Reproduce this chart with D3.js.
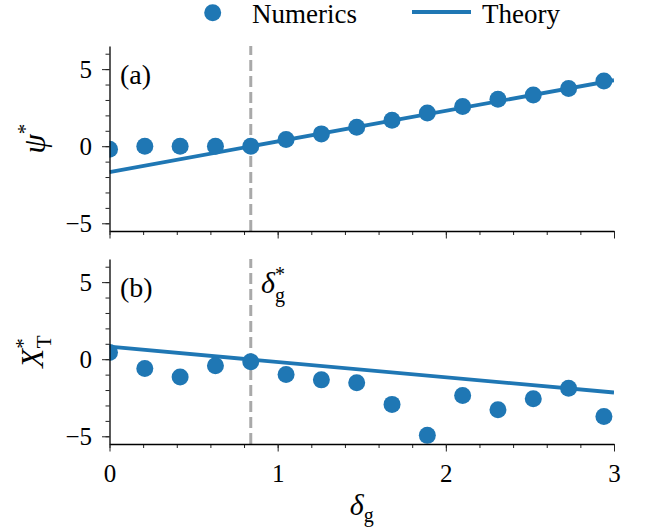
<!DOCTYPE html>
<html>
<head>
<meta charset="utf-8">
<script src="https://cdn.jsdelivr.net/npm/d3@7"></script>
<style>
  html, body { margin: 0; padding: 0; background: #fff; }
  svg { display: block; }
  svg text { font-family: "Liberation Serif", "Times New Roman", Times, "DejaVu Serif", "Noto Serif", Georgia, serif; fill: #000; }
</style>
</head>
<body>
<svg id="chart" width="651" height="529"></svg>
<script>
// Gravity-offset sweep: numerical fixed points vs. linear theory
const deltaG = [0, 0.21, 0.42, 0.63, 0.84, 1.05, 1.26, 1.47, 1.68, 1.89, 2.10, 2.31, 2.52, 2.73, 2.94];
const psiNumerics = [-0.2, 0.0, 0.0, 0.0, 0.0, 0.43, 0.8, 1.23, 1.68, 2.16, 2.57, 3.04, 3.32, 3.75, 4.23];
const xtNumerics = [0.43, -0.61, -1.16, -0.43, -0.17, -0.99, -1.34, -1.53, -2.93, -4.94, -2.35, -3.28, -2.57, -1.88, -3.71];
const theoryDelta = [0, 3];
const psiTheory = [-1.68, 4.28];
const xtTheory = [0.81, -2.16];
const deltaStar = 0.84;
const xMajorTicks = [0, 1, 2, 3];
const yMajorTicks = [-5, 0, 5];
const panelTags = ["(a)", "(b)"];

const serif = '"Liberation Serif", "Times New Roman", Times, "DejaVu Serif", "Noto Serif", Georgia, serif';
const blue = "#1f77b4";
const svg = d3.select("#chart").attr("font-family", serif);
const fs = 25;

const x = d3.scaleLinear().domain([0, 3]).range([109.5, 614]);
const panels = [
  { tag: panelTags[0], y: d3.scaleLinear().domain([-5.5, 6.5]).range([231, 46]), num: psiNumerics, th: psiTheory, showX: false },
  { tag: panelTags[1], y: d3.scaleLinear().domain([-5.5, 6.5]).range([444, 259]), num: xtNumerics, th: xtTheory, showX: true }
];

panels.forEach((p, i) => {
  const [yb, yt] = p.y.range();
  const clipId = "clip" + i;
  svg.append("clipPath").attr("id", clipId)
    .append("rect").attr("x", x(0)).attr("y", yt).attr("width", x(3) - x(0)).attr("height", yb - yt);

  const g = svg.append("g");
  const plot = g.append("g").attr("clip-path", `url(#${clipId})`);

  // critical offset marker
  plot.append("line")
    .attr("x1", x(deltaStar)).attr("x2", x(deltaStar))
    .attr("y1", p.y(-5.5)).attr("y2", p.y(6.5))
    .attr("stroke", "#a9a9a9").attr("stroke-width", 3)
    .attr("stroke-dasharray", "11,5");

  // theory line
  const line = d3.line().x((d, k) => x(theoryDelta[k])).y(d => p.y(d));
  plot.append("path").datum(p.th)
    .attr("d", line).attr("fill", "none")
    .attr("stroke", blue).attr("stroke-width", 3.8);

  // numerical points
  plot.selectAll("circle").data(p.num).join("circle")
    .attr("cx", (d, k) => x(deltaG[k])).attr("cy", d => p.y(d))
    .attr("r", 8.5).attr("fill", blue);

  // y axis: minor then major
  const yMinor = d3.axisLeft(p.y).tickValues(d3.range(-5, 7, 1)).tickSize(4).tickFormat("").tickSizeOuter(0);
  const gyMinor = g.append("g").attr("transform", `translate(${x(0)},0)`).call(yMinor);
  gyMinor.select(".domain").remove();
  const yMajor = d3.axisLeft(p.y).tickValues(yMajorTicks).tickSize(7.5).tickPadding(10).tickSizeOuter(0)
    .tickFormat(d => d < 0 ? "\u2212" + Math.abs(d) : d);
  const gy = g.append("g").attr("transform", `translate(${x(0)},0)`).call(yMajor);

  // x axis: minor then major
  const xMinor = d3.axisBottom(x).tickValues(d3.range(0, 3.01, 0.2)).tickSize(4).tickFormat("").tickSizeOuter(0);
  const gxMinor = g.append("g").attr("transform", `translate(0,${yb})`).call(xMinor);
  gxMinor.select(".domain").remove();
  const xMajor = d3.axisBottom(x).tickValues(xMajorTicks).tickSize(7.5).tickPadding(12).tickSizeOuter(0)
    .tickFormat(p.showX ? d3.format("d") : "");
  const gx = g.append("g").attr("transform", `translate(0,${yb})`).call(xMajor);

  [gy, gx, gyMinor, gxMinor].forEach(a => {
    a.attr("font-family", serif);
    a.selectAll(".tick line").attr("stroke", "#222").attr("stroke-width", 1);
    a.selectAll(".domain").attr("stroke", "#000").attr("stroke-width", 1.3);
    a.selectAll("text").attr("font-size", fs).attr("font-family", serif).attr("fill", "#000");
  });
  gy.selectAll(".tick text").attr("dy", "0.34em");
  gx.selectAll(".tick text").attr("dy", "0.75em");

  // panel tag
  g.append("text").attr("x", 120).attr("y", p.y(6.5) + 38)
    .attr("font-size", 28).text(p.tag);
});

// y-axis labels
const la = svg.append("text").attr("text-anchor", "middle").attr("font-size", 31)
  .attr("transform", `translate(45,${(panels[0].y(-5.5) + panels[0].y(6.5)) / 2}) rotate(-90)`);
la.append("tspan").attr("font-style", "italic").text("\u03c8");
la.append("tspan").attr("font-size", 21).attr("dy", -13).text("*");

const lb = svg.append("text").attr("text-anchor", "middle").attr("font-size", 31)
  .attr("transform", `translate(43,${(panels[1].y(-5.5) + panels[1].y(6.5)) / 2}) rotate(-90)`);
lb.append("tspan").attr("font-style", "italic").text("X");
lb.append("tspan").attr("font-size", 21).attr("dy", -13).text("*");
lb.append("tspan").attr("font-size", 21).attr("dx", -10).attr("dy", 21).text("T");

// critical offset annotation
const ann = svg.append("text").attr("x", 261).attr("y", 293).attr("font-size", 30);
ann.append("tspan").attr("font-style", "italic").text("\u03b4");
ann.append("tspan").attr("font-size", 20).attr("dy", -12).text("*");
ann.append("tspan").attr("font-size", 20).attr("dx", -10).attr("dy", 21).text("g");

// x-axis label
const xl = svg.append("text").attr("x", (x(0) + x(3)) / 2).attr("y", 515)
  .attr("text-anchor", "middle").attr("font-size", 30);
xl.append("tspan").attr("font-style", "italic").text("\u03b4");
xl.append("tspan").attr("font-size", 20).attr("dy", 7).text("g");

// legend
const leg = svg.append("g");
leg.append("circle").attr("cx", 212.7).attr("cy", 12.7).attr("r", 8.5).attr("fill", blue);
leg.append("text").attr("x", 252).attr("y", 23).attr("font-size", 27).text("Numerics");
leg.append("line").attr("x1", 412).attr("x2", 471).attr("y1", 12).attr("y2", 12)
  .attr("stroke", blue).attr("stroke-width", 3.8);
leg.append("text").attr("x", 482).attr("y", 23).attr("font-size", 27).text("Theory");
</script>
</body>
</html>
